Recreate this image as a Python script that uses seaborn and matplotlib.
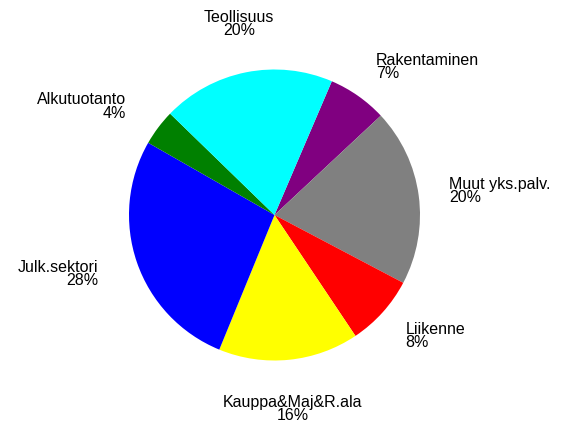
import matplotlib
matplotlib.use("Agg")
import matplotlib.pyplot as plt
import seaborn as sns
import numpy as np

sns.set_theme(style="white")
plt.rcParams['font.family'] = ['Liberation Sans', 'DejaVu Sans']

categories = ["Rakentaminen", "Muut yks.palv.", "Liikenne", "Kauppa&Maj&R.ala",
              "Julk.sektori", "Alkutuotanto", "Teollisuus"]
values = [6.6, 19.7, 7.9, 15.6, 27.1, 4.0, 19.2]
pct_labels = ["7%", "20%", "8%", "16%", "28%", "4%", "20%"]
colors = ["#800080", "#808080", "#FF0000", "#FFFF00", "#0000FF", "#008000", "#00FFFF"]

W, H = 568, 423
cx, cy, R = 274.5, 215, 145.5

fig = plt.figure(figsize=(W / 100, H / 100), dpi=100)
ax = fig.add_axes([0, 0, 1, 1])
labels = [f"{c}\n{p}" for c, p in zip(categories, pct_labels)]
wedges, texts = ax.pie(values, labels=labels, colors=colors, startangle=66.8,
                       counterclock=False, radius=1, labeldistance=1.24,
                       wedgeprops=dict(linewidth=0, antialiased=True),
                       textprops=dict(fontsize=11.5, color="black", linespacing=0.85))
for w, t in zip(wedges, texts):
    th = np.deg2rad((w.theta1 + w.theta2) / 2)
    c, s = np.cos(th), np.sin(th)
    rx, ry = 1.24, 1.24
    if c > 0.3:
        t.set_ha("left")
        rx = 1.21
    elif c < -0.3:
        t.set_ha("right")
        rx = 1.28
    else:
        t.set_ha("center")
    if s > 0.9:
        t.set_va("bottom")
    elif s < -0.9:
        t.set_va("top")
    else:
        t.set_va("center")
    t.set_position((rx * c, ry * s))
    t.set_multialignment(t.get_ha())

ax.set_aspect("auto")
ax.set_xlim(-cx / R, (W - cx) / R)
ax.set_ylim(-(H - cy) / R, cy / R)
ax.axis("off")
fig.savefig("out.png", dpi=100, facecolor="white")
